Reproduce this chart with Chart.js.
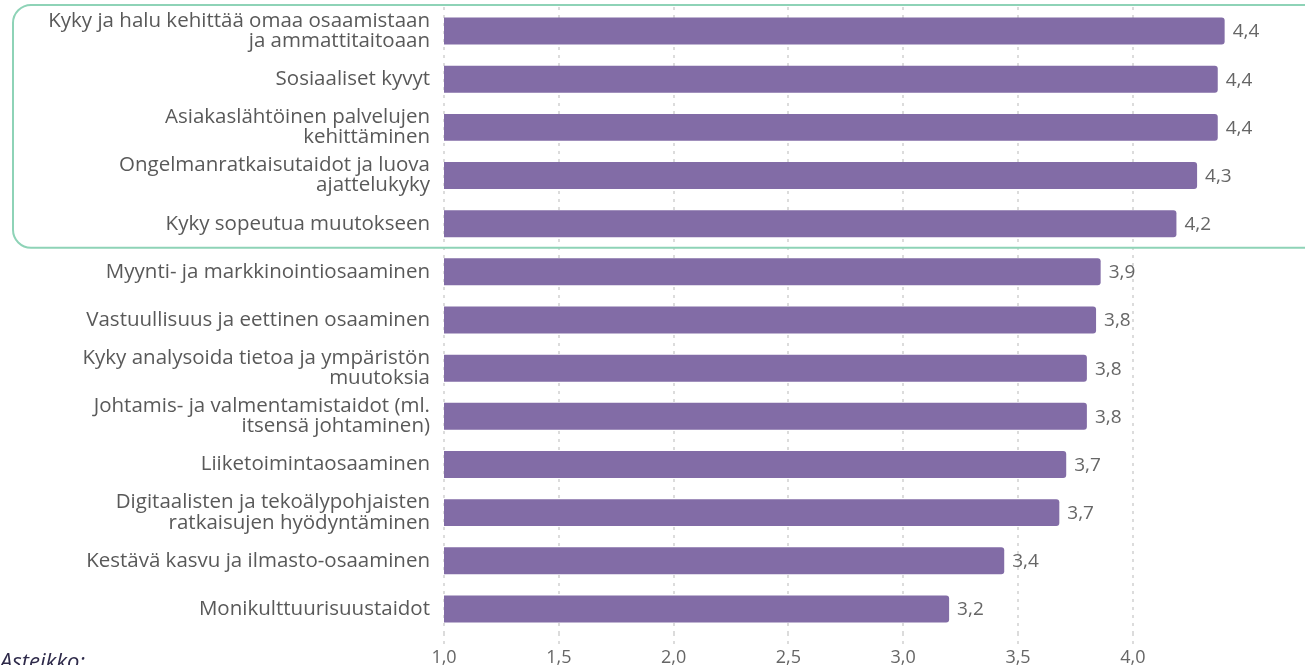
<!DOCTYPE html>
<html>
<head>
<meta charset="utf-8">
<script src="https://cdn.jsdelivr.net/npm/chart.js@4"></script>
<style>
html,body{margin:0;padding:0;background:#fff;overflow:hidden;}
#wrap{position:relative;width:1305px;height:665px;}
</style>
</head>
<body>
<div id="wrap"><canvas id="c"></canvas></div>
<script>
const categories = [
  ["Kyky ja halu kehittää omaa osaamistaan", "ja ammattitaitoaan"],
  "Sosiaaliset kyvyt",
  ["Asiakaslähtöinen palvelujen", "kehittäminen"],
  ["Ongelmanratkaisutaidot ja luova", "ajattelukyky"],
  "Kyky sopeutua muutokseen",
  "Myynti- ja markkinointiosaaminen",
  "Vastuullisuus ja eettinen osaaminen",
  ["Kyky analysoida tietoa ja ympäristön", "muutoksia"],
  ["Johtamis- ja valmentamistaidot (ml.", "itsensä johtaminen)"],
  "Liiketoimintaosaaminen",
  ["Digitaalisten ja tekoälypohjaisten", "ratkaisujen hyödyntäminen"],
  "Kestävä kasvu ja ilmasto-osaaminen",
  "Monikulttuurisuustaidot"
];
const values = [4.40, 4.37, 4.37, 4.28, 4.19, 3.86, 3.84, 3.80, 3.80, 3.71, 3.68, 3.44, 3.20];
const highlightedCount = 5;
const scaleNote = "Asteikko:";

const fmt = v => v.toFixed(1).replace('.', ',');

const extras = {
  id: 'extras',
  afterDatasetsDraw(chart) {
    const ctx = chart.ctx;
    const meta = chart.getDatasetMeta(0);
    ctx.save();
    ctx.font = '19px "Open Sans"';
    ctx.fillStyle = '#666666';
    ctx.textAlign = 'left';
    ctx.textBaseline = 'middle';
    meta.data.forEach((bar, i) => {
      ctx.fillText(fmt(values[i]), bar.x + 8, bar.y + 1);
    });
    // highlight box
    const ys = chart.scales.y;
    const step = ys.getPixelForValue(1) - ys.getPixelForValue(0);
    const top = ys.getPixelForValue(0) - step / 2 - 2;
    const bottom = ys.getPixelForValue(highlightedCount - 1) + step / 2;
    const left = 13, right = chart.width + 20, r = 18;
    ctx.strokeStyle = '#8ed3b7';
    ctx.lineWidth = 2;
    ctx.beginPath();
    ctx.moveTo(right, top);
    ctx.lineTo(left + r, top);
    ctx.arcTo(left, top, left, top + r, r);
    ctx.lineTo(left, bottom - r);
    ctx.arcTo(left, bottom, left + r, bottom, r);
    ctx.lineTo(right, bottom);
    ctx.stroke();
    // scale note
    ctx.font = 'italic 22px "Open Sans"';
    ctx.fillStyle = '#2e2a4a';
    ctx.textBaseline = 'alphabetic';
    ctx.fillText(scaleNote, 0, 669);
    ctx.restore();
  }
};

new Chart(document.getElementById('c'), {
  type: 'bar',
  data: {
    labels: categories,
    datasets: [{
      data: values,
      backgroundColor: '#826ca6',
      borderWidth: 0,
      borderRadius: 3,
      borderSkipped: 'start',
      categoryPercentage: 1,
      barPercentage: 0.56
    }]
  },
  options: {
    indexAxis: 'y',
    responsive: true,
    maintainAspectRatio: false,
    animation: false,
    layout: { padding: { top: 7, right: 0, left: 0, bottom: 0 } },
    plugins: { legend: { display: false }, tooltip: { enabled: false } },
    scales: {
      x: {
        min: 1,
        max: 4.75,
        afterBuildTicks(axis) {
          axis.ticks = axis.ticks.filter(t => t.value <= 4.0001);
        },
        afterFit(axis) { axis.height = 32; },
        ticks: {
          stepSize: 0.5,
          color: '#666666',
          font: { family: 'Open Sans', size: 18 },
          padding: 0,
          callback: v => fmt(v)
        },
        grid: {
          color: '#dcdcdc',
          lineWidth: 2,
          tickLength: 14,
          tickBorderDash: [3, 5],
          tickColor: '#dcdcdc',
          tickWidth: 2
        },
        border: { display: false, dash: [3, 5] }
      },
      y: {
        afterFit(axis) {
          axis.width = 444;
          axis.paddingTop = 0;
          axis.paddingBottom = 0;
        },
        ticks: {
          color: '#595959',
          font: { family: 'Open Sans', size: 20.5, lineHeight: 0.98 },
          padding: 14,
          autoSkip: false
        },
        grid: { display: false, drawTicks: false },
        border: { display: false }
      }
    }
  },
  plugins: [extras]
});
</script>
</body>
</html>
